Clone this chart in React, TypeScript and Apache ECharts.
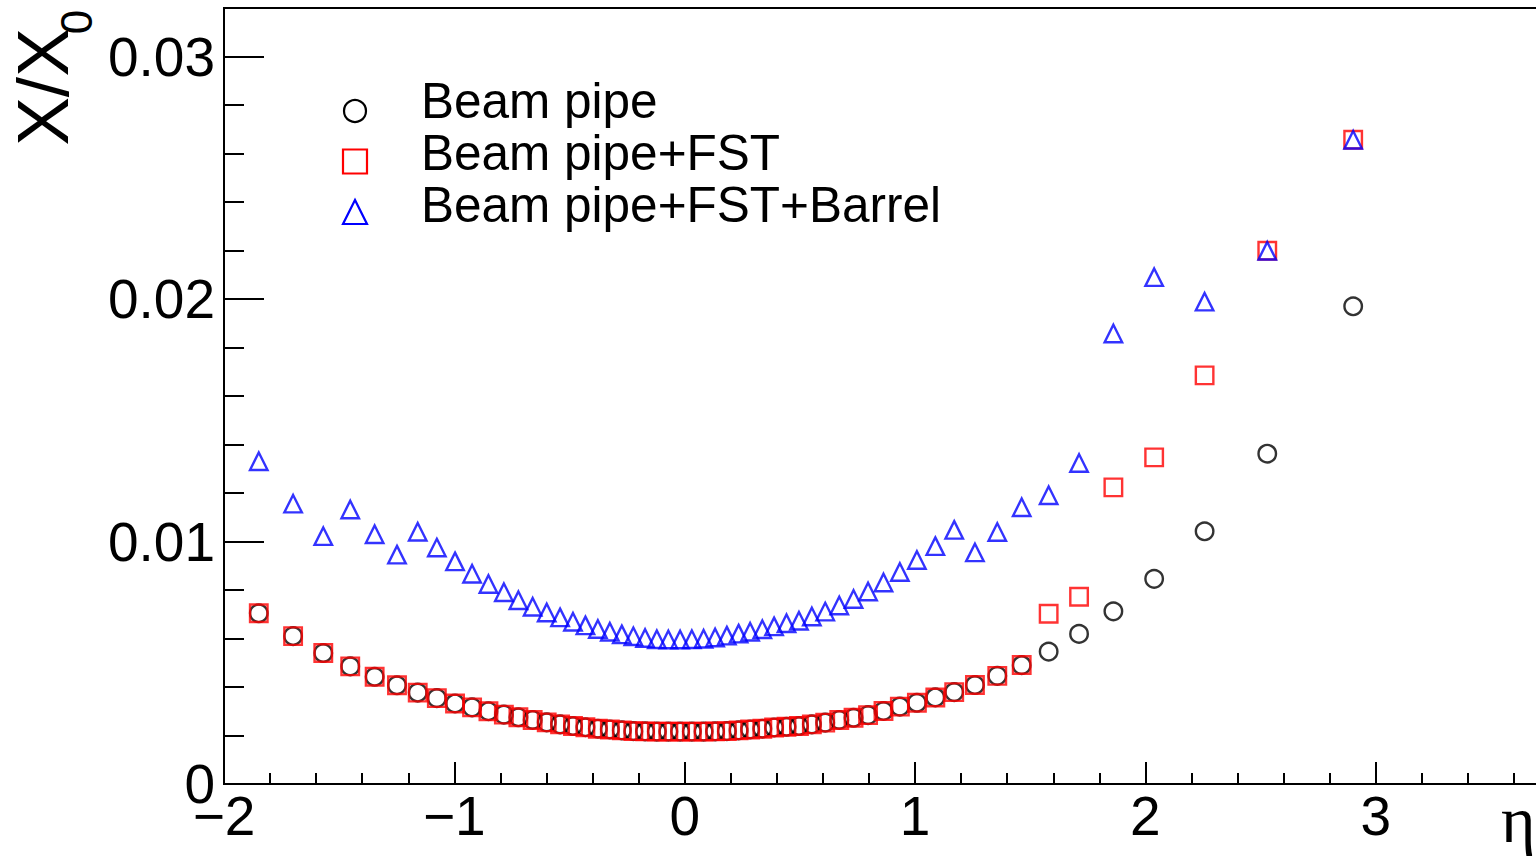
import React, { useEffect, useRef } from 'react';
import * as echarts from 'echarts';

// ---- data ----
const eta = [
  -1.849, -1.700, -1.569, -1.452, -1.346, -1.249, -1.159, -1.076, -0.997, -0.923,
  -0.852, -0.785, -0.722, -0.660, -0.599, -0.541, -0.485, -0.431, -0.377, -0.325,
  -0.273, -0.223, -0.172, -0.121, -0.071, -0.020,
  0.031, 0.082, 0.132, 0.183, 0.234, 0.284, 0.337, 0.388, 0.442, 0.496,
  0.552, 0.610, 0.671, 0.733, 0.796, 0.863, 0.934, 1.008, 1.088, 1.170,
  1.260, 1.357, 1.463, 1.580, 1.712, 1.861, 2.038, 2.257, 2.529, 2.902,
];

const beamPipe = [
  0.00704, 0.00610, 0.00540, 0.00485, 0.00442, 0.00407, 0.00377, 0.00354, 0.00332, 0.00316,
  0.00300, 0.00286, 0.00275, 0.00264, 0.00254, 0.00246, 0.00239, 0.00234, 0.00228, 0.00225,
  0.00221, 0.00218, 0.00217, 0.00216, 0.00216, 0.00216,
  0.00216, 0.00216, 0.00217, 0.00218, 0.00221, 0.00225, 0.00228, 0.00233, 0.00236, 0.00239,
  0.00246, 0.00253, 0.00264, 0.00273, 0.00284, 0.00301, 0.00319, 0.00335, 0.00357, 0.00379,
  0.00408, 0.00446, 0.00490, 0.00546, 0.00619, 0.00712, 0.00846, 0.01042, 0.01362, 0.01970,
];

const beamPipeFST = [
  0.00704, 0.00610, 0.00540, 0.00485, 0.00442, 0.00407, 0.00377, 0.00354, 0.00332, 0.00316,
  0.00300, 0.00286, 0.00275, 0.00264, 0.00254, 0.00246, 0.00239, 0.00234, 0.00228, 0.00225,
  0.00221, 0.00218, 0.00217, 0.00216, 0.00216, 0.00216,
  0.00216, 0.00216, 0.00217, 0.00218, 0.00221, 0.00225, 0.00228, 0.00233, 0.00236, 0.00239,
  0.00246, 0.00253, 0.00264, 0.00273, 0.00284, 0.00301, 0.00319, 0.00335, 0.00357, 0.00379,
  0.00408, 0.00446, 0.00491, 0.00702, 0.00772, 0.01223, 0.01347, 0.01685, 0.02199, 0.02657,
];

const beamPipeFSTBarrel = [
  0.01331, 0.01156, 0.01022, 0.01132, 0.01030, 0.00946, 0.01040, 0.00975, 0.00918, 0.00867,
  0.00825, 0.00791, 0.00758, 0.00731, 0.00707, 0.00687, 0.00669, 0.00654, 0.00639, 0.00628,
  0.00617, 0.00609, 0.00602, 0.00597, 0.00596, 0.00596,
  0.00597, 0.00599, 0.00604, 0.00612, 0.00620, 0.00628, 0.00638, 0.00650, 0.00663, 0.00673,
  0.00691, 0.00711, 0.00736, 0.00763, 0.00794, 0.00831, 0.00874, 0.00924, 0.00981, 0.01048,
  0.00955, 0.01039, 0.01141, 0.01191, 0.01324, 0.01858, 0.02090, 0.01989, 0.02199, 0.02657,
];

const seriesNames = ['Beam pipe', 'Beam pipe+FST', 'Beam pipe+FST+Barrel'];
const seriesColors = ['#000000', '#ff0000', '#0000ff'];

const xMajorTicks = [-2, -1, 0, 1, 2, 3];
const xTickLabels = ['\u22122', '\u22121', '0', '1', '2', '3'];
const xMinorTicks = [
  -1.8, -1.6, -1.4, -1.2, -0.8, -0.6, -0.4, -0.2, 0.2, 0.4, 0.6, 0.8,
  1.2, 1.4, 1.6, 1.8, 2.2, 2.4, 2.6, 2.8, 3.2, 3.4, 3.6,
];
const yMajorTicks = [0, 0.01, 0.02, 0.03];
const yTickLabels = ['0', '0.01', '0.02', '0.03'];
const yMinorTicks = [
  0.002, 0.004, 0.006, 0.008, 0.012, 0.014, 0.016, 0.018, 0.022, 0.024, 0.026, 0.028,
];

const FONT = 'Liberation Sans, Arial, Helvetica, sans-serif';

function labelFor(ticks: number[], labels: string[], v: number): string {
  for (let i = 0; i < ticks.length; i++) {
    if (Math.abs(ticks[i] - v) < 1e-9) return labels[i];
  }
  return '';
}

export default function App() {
  const ref = useRef<HTMLDivElement>(null);

  useEffect(() => {
    if (!ref.current) return;
    const chart = echarts.init(ref.current, undefined, { renderer: 'svg' });

    const X_MIN = -2;
    const X_MAX = 3.7;
    const Y_MIN = 0;
    const Y_MAX = 0.032;

    const baseX = {
      type: 'value',
      min: X_MIN,
      max: X_MAX,
      position: 'bottom',
      splitLine: { show: false },
      gridIndex: 0,
    };
    const baseY = {
      type: 'value',
      min: Y_MIN,
      max: Y_MAX,
      position: 'left',
      splitLine: { show: false },
      gridIndex: 0,
    };

    const markerSize = 17.5;
    const markerStroke = 2.4;

    // legend drawn as graphic elements (marker + text per row)
    const legX = 355;
    const legMarkerY = [111, 161.5, 212];
    const legTextY = [100.5, 152.5, 204];
    const legSize = 24;
    const h = legSize / 2;
    const legendGraphics: any[] = [
      {
        type: 'circle',
        shape: { cx: legX, cy: legMarkerY[0], r: h - 1 },
        style: { fill: 'none', stroke: seriesColors[0], lineWidth: 2.2 },
      },
      {
        type: 'rect',
        shape: { x: legX - h, y: legMarkerY[1] - h, width: legSize, height: legSize },
        style: { fill: 'none', stroke: seriesColors[1], lineWidth: 2.2 },
      },
      {
        type: 'polygon',
        shape: {
          points: [
            [legX, legMarkerY[2] - h],
            [legX - h, legMarkerY[2] + h],
            [legX + h, legMarkerY[2] + h],
          ],
        },
        style: { fill: 'none', stroke: seriesColors[2], lineWidth: 2.2 },
      },
    ];
    seriesNames.forEach((name, i) => {
      legendGraphics.push({
        type: 'text',
        x: 421,
        y: legTextY[i],
        style: {
          text: name,
          fontFamily: FONT,
          fontSize: 49.5,
          fill: '#000',
          align: 'left',
          verticalAlign: 'middle',
        },
      });
    });

    const option: any = {
      animation: false,
      backgroundColor: '#fff',
      grid: {
        left: 224,
        top: 8,
        width: 1313,
        height: 776,
        show: true,
        borderColor: '#000',
        borderWidth: 2,
        backgroundColor: 'transparent',
        containLabel: false,
        outerBoundsMode: 'none',
      },
      xAxis: [
        {
          ...baseX,
          axisLine: { show: true, onZero: false, lineStyle: { color: '#000', width: 2 } },
          axisTick: {
            show: true,
            inside: true,
            length: 22,
            customValues: xMajorTicks,
            lineStyle: { color: '#000', width: 2 },
          },
          axisLabel: {
            show: true,
            customValues: xMajorTicks,
            margin: 17,
            lineHeight: 30,
            fontFamily: FONT,
            fontSize: 55,
            color: '#000',
            formatter: (v: number) => labelFor(xMajorTicks, xTickLabels, v),
          },
        },
        {
          ...baseX,
          axisLine: { show: false, onZero: false },
          axisTick: {
            show: true,
            inside: true,
            length: 11,
            customValues: xMinorTicks,
            lineStyle: { color: '#000', width: 2 },
          },
          axisLabel: { show: false },
        },
      ],
      yAxis: [
        {
          ...baseY,
          axisLine: { show: true, onZero: false, lineStyle: { color: '#000', width: 2 } },
          axisTick: {
            show: true,
            inside: true,
            length: 40,
            customValues: yMajorTicks,
            lineStyle: { color: '#000', width: 2 },
          },
          axisLabel: {
            show: true,
            customValues: yMajorTicks,
            margin: 9,
            lineHeight: 26,
            fontFamily: FONT,
            fontSize: 55,
            color: '#000',
            formatter: (v: number) => labelFor(yMajorTicks, yTickLabels, v),
          },
        },
        {
          ...baseY,
          axisLine: { show: false, onZero: false },
          axisTick: {
            show: true,
            inside: true,
            length: 20,
            customValues: yMinorTicks,
            lineStyle: { color: '#000', width: 2 },
          },
          axisLabel: { show: false },
        },
      ],
      graphic: [
        {
          type: 'text',
          x: 42,
          y: 87,
          rotation: Math.PI / 2,
          style: {
            text: 'X/X',
            fontFamily: FONT,
            fontSize: 73,
            fill: '#000',
            align: 'center',
            verticalAlign: 'middle',
          },
        },
        {
          type: 'text',
          x: 76,
          y: 22,
          rotation: Math.PI / 2,
          style: {
            text: '0',
            fontFamily: FONT,
            fontSize: 44,
            fill: '#000',
            align: 'center',
            verticalAlign: 'middle',
          },
        },
        {
          type: 'text',
          x: 1501,
          y: 819,
          style: {
            text: '\u03b7',
            fontFamily: 'Liberation Serif, DejaVu Serif, serif',
            fontSize: 66,
            fill: '#000',
            align: 'left',
            verticalAlign: 'middle',
          },
        },
        ...legendGraphics,
      ],
      series: [
        {
          name: seriesNames[0],
          type: 'scatter',
          xAxisIndex: 0,
          yAxisIndex: 0,
          symbol: 'circle',
          symbolSize: markerSize,
          itemStyle: { color: 'transparent', borderColor: seriesColors[0], borderWidth: markerStroke },
          emphasis: { disabled: true },
          data: eta.map((x, i) => [x, beamPipe[i]]),
          z: 2,
        },
        {
          name: seriesNames[1],
          type: 'scatter',
          xAxisIndex: 0,
          yAxisIndex: 0,
          symbol: 'rect',
          symbolSize: markerSize,
          itemStyle: { color: 'transparent', borderColor: seriesColors[1], borderWidth: markerStroke },
          emphasis: { disabled: true },
          data: eta.map((x, i) => [x, beamPipeFST[i]]),
          z: 3,
        },
        {
          name: seriesNames[2],
          type: 'scatter',
          xAxisIndex: 0,
          yAxisIndex: 0,
          symbol: 'triangle',
          symbolSize: markerSize,
          itemStyle: { color: 'transparent', borderColor: seriesColors[2], borderWidth: markerStroke },
          emphasis: { disabled: true },
          data: eta.map((x, i) => [x, beamPipeFSTBarrel[i]]),
          z: 4,
        },
      ],
    };

    chart.setOption(option);
    return () => {
      chart.dispose();
    };
  }, []);

  return (
    <div
      ref={ref}
      style={{
        position: 'absolute',
        left: 0,
        top: 0,
        width: '1536px',
        height: '858px',
        background: '#fff',
      }}
    />
  );
}
